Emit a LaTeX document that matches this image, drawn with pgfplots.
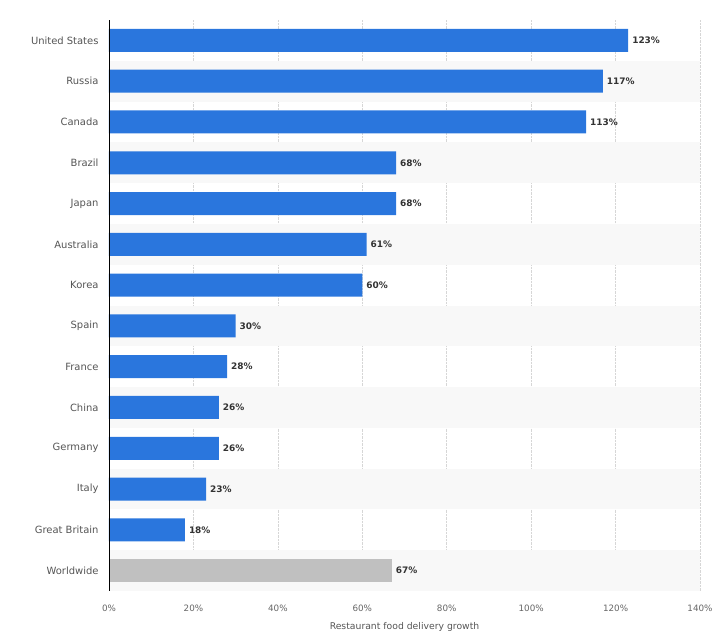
\documentclass[border=0pt]{standalone}
\usepackage{pgfplots}
\pgfplotsset{compat=1.18}
\usepackage{fontspec}
\setmainfont{DejaVu Sans}
\definecolor{barblue}{HTML}{2A76DD}
\definecolor{bargrey}{HTML}{C0C0C0}
\definecolor{stripe}{HTML}{F8F8F8}
\definecolor{labgrey}{HTML}{555555}
\definecolor{tickgrey}{HTML}{666666}
\definecolor{valgrey}{HTML}{333333}
\definecolor{gridgrey}{HTML}{D6D6D6}
\begin{document}
\begin{tikzpicture}
\path[use as bounding box] (-109bp,-49bp) rectangle (606bp,591bp);
\begin{axis}[
  at={(0,0)}, anchor=south west,
  scale only axis, width=591bp, height=571bp,
  xbar, bar width=23bp, bar shift=0pt,
  xmin=0, xmax=140, ymin=-0.5, ymax=13.5,
  y dir=reverse,
  axis lines*=left,
  x axis line style={draw=none},
  y axis line style={draw=none},
  ytick={0,...,13},
  yticklabels={United States,Russia,Canada,Brazil,Japan,Australia,Korea,Spain,France,China,Germany,Italy,Great Britain,Worldwide},
  yticklabel style={font=\fontsize{10}{12}\selectfont, text=labgrey, xshift=-7bp},
  xtick={0,20,...,140},
  xticklabel={\pgfmathprintnumber{\tick}\%},
  xticklabel style={font=\fontsize{8.8}{10}\selectfont, text=tickgrey, yshift=-10bp},
  /pgf/number format/assume math mode=true,
  major tick length=0pt,
  xmajorgrids, grid style={gridgrey, densely dotted, line width=0.6pt},
  xlabel={Restaurant food delivery growth},
  xlabel style={font=\fontsize{9.3}{11}\selectfont, text=labgrey, yshift=-4bp},
  nodes near coords={\pgfmathprintnumber[assume math mode=true]{\pgfplotspointmeta}\%},
  point meta=x,
  nodes near coords align=horizontal,
  every node near coord/.append style={font=\bfseries\fontsize{9}{11}\selectfont, text=valgrey, xshift=0.5bp},
  clip=false,
]
\fill[stripe] (axis cs:0,0.5) rectangle (axis cs:140,1.5);
\fill[stripe] (axis cs:0,2.5) rectangle (axis cs:140,3.5);
\fill[stripe] (axis cs:0,4.5) rectangle (axis cs:140,5.5);
\fill[stripe] (axis cs:0,6.5) rectangle (axis cs:140,7.5);
\fill[stripe] (axis cs:0,8.5) rectangle (axis cs:140,9.5);
\fill[stripe] (axis cs:0,10.5) rectangle (axis cs:140,11.5);
\fill[stripe] (axis cs:0,12.5) rectangle (axis cs:140,13.5);
\addplot[fill=barblue, draw=none] coordinates {
  (123,0) (117,1) (113,2) (68,3) (68,4) (61,5) (60,6) (30,7) (28,8) (26,9) (26,10) (23,11) (18,12)
};
\addplot[fill=bargrey, draw=none] coordinates {(67,13)};
\draw[black, line width=0.8pt] (axis cs:0,-0.5) -- (axis cs:0,13.5);
\end{axis}
\end{tikzpicture}
\end{document}
